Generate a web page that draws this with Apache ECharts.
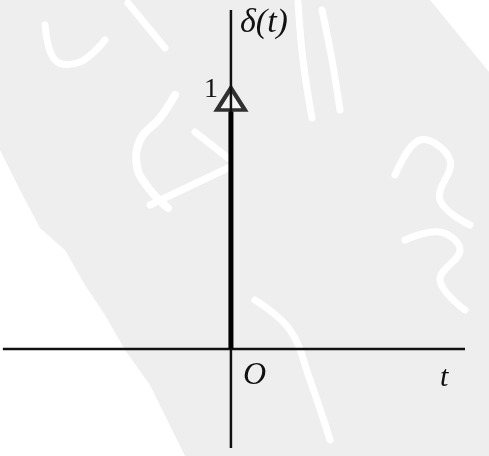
<!DOCTYPE html>
<html>
<head>
<meta charset="utf-8">
<script src="https://cdn.jsdelivr.net/npm/echarts@6/dist/echarts.min.js"></script>
<style>html,body{margin:0;padding:0;background:#eeeeee}#c{width:489px;height:456px}</style>
</head>
<body>
<div id="c"></div>
<script>
// data
var tAxisRange = [-0.874, 0.897];     // horizontal (t) axis extent
var yAxisRange = [-0.379, 1.299];     // vertical axis extent
var impulseT = [0];                   // impulse location
var impulseStrength = [1];            // impulse weight
var yTickLabels = ['1'];

var chart = echarts.init(document.getElementById('c'));
var serif = '"Liberation Serif","DejaVu Serif",serif';
function stroke(pts, w) {
  return {type: 'polyline', z: -9, silent: true, shape: {points: pts, smooth: 0.4},
          style: {stroke: '#ffffff', lineWidth: w || 7, lineCap: 'round', lineJoin: 'round', fill: null}};
}
chart.setOption({
  backgroundColor: '#eeeeee',
  animation: false,
  grid: {left: 0, right: 0, top: 0, bottom: 0},
  xAxis: {type: 'value', min: -0.885, max: 0.989, show: false},
  yAxis: {type: 'value', min: -0.41, max: 1.337, show: false},
  graphic: [
    {type: 'polygon', z: -10, silent: true,
     shape: {points: [[0,150],[20,190],[40,228],[65,250],[85,285],[105,315],[125,350],[150,385],[185,456],[0,456]]},
     style: {fill: '#ffffff'}},
    {type: 'polygon', z: -10, silent: true,
     shape: {points: [[430,0],[489,0],[489,72]]},
     style: {fill: '#ffffff'}},
    stroke([[45,25],[55,60],[80,62],[105,40]]),
    stroke([[128,3],[165,48]]),
    stroke([[175,95],[160,118],[140,140],[137,167],[150,190],[168,208]], 8),
    stroke([[195,132],[228,158]]),
    stroke([[150,205],[228,168]]),
    stroke([[298,2],[303,60],[312,118]]),
    stroke([[322,10],[332,60],[340,110]]),
    stroke([[395,175],[420,140],[450,160],[440,200],[470,225]]),
    stroke([[405,240],[440,232],[460,250],[440,280],[465,310]]),
    stroke([[255,300],[290,330],[310,380],[330,440]]),
    {type: 'text', left: 240, top: 6, style: {text: 'δ(t)', font: 'italic 34px ' + serif, fill: '#111'}},
    {type: 'text', left: 204, top: 76, style: {text: yTickLabels[0], font: '28px ' + serif, fill: '#111'}},
    {type: 'text', left: 243, top: 360, style: {text: 'O', font: 'italic 32px ' + serif, fill: '#111'}},
    {type: 'text', left: 440, top: 363, style: {text: 't', font: 'italic 30px ' + serif, fill: '#111'}}
  ],
  series: [
    {type: 'line', symbol: 'none', silent: true,
     lineStyle: {color: '#111', width: 2.5},
     data: [[tAxisRange[0], 0], [tAxisRange[1], 0]]},
    {type: 'line', symbol: 'none', silent: true,
     lineStyle: {color: '#111', width: 2.5},
     data: [[0, yAxisRange[0]], [0, yAxisRange[1]]]},
    {type: 'line', symbol: 'none', silent: true,
     lineStyle: {color: '#000', width: 5},
     data: [[impulseT[0], 0], [impulseT[0], impulseStrength[0] * 0.91]]},
    {type: 'scatter', silent: true, symbol: 'triangle', symbolSize: [28, 22],
     symbolOffset: [0, '50%'],
     itemStyle: {color: '#f8f8f8', borderColor: '#000', borderWidth: 4},
     data: [[impulseT[0], impulseStrength[0]]]}
  ]
});
</script>
</body>
</html>
